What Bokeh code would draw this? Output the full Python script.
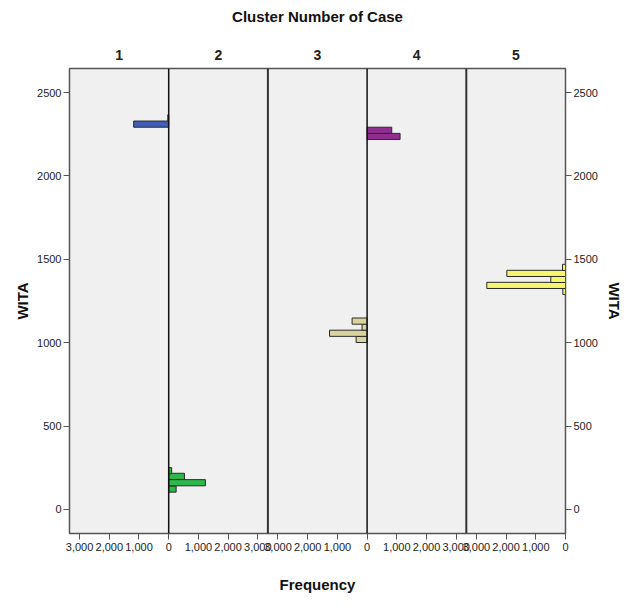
from bokeh.plotting import figure
from bokeh.models import (ColumnDataSource, Range1d, LinearAxis, FixedTicker, Span)
from bokeh.embed import file_html
from bokeh.resources import INLINE

# ---- data ----
clusters = ["1", "2", "3", "4", "5"]
bin_width = 37
c1_bins = [2292, 2330]
c1_counts = [1180, 30]
c2_bins = [104, 142, 180, 214]
c2_counts = [250, 1235, 530, 100]
c3_bins = [1001, 1038, 1075, 1111]
c3_counts = [370, 1265, 170, 505]
c4_bins = [2218, 2255]
c4_counts = [1110, 830]
c5_bins = [1289, 1325, 1361, 1397, 1433]
c5_counts = [90, 2650, 495, 1975, 100]
colors = ["#3F5CB8", "#2EB84A", "#D9D49C", "#8E2D8E", "#F7F56E"]
y_ticks = [0, 500, 1000, 1500, 2000, 2500]
freq_ticks = [0, 1000, 2000, 3000]

W = 3340  # frequency units spanned by one panel
panel_zero = [W, W, 3 * W, 3 * W, 5 * W]
panel_dir = [-1, 1, -1, 1, -1]

all_bins = [c1_bins, c2_bins, c3_bins, c4_bins, c5_bins]
all_counts = [c1_counts, c2_counts, c3_counts, c4_counts, c5_counts]

left, right, bottom, top, fill = [], [], [], [], []
for i in range(5):
    z, d = panel_zero[i], panel_dir[i]
    for b, c in zip(all_bins[i], all_counts[i]):
        a, e = z, z + d * c
        left.append(min(a, e)); right.append(max(a, e))
        bottom.append(b); top.append(b + bin_width)
        fill.append(colors[i])
src = ColumnDataSource(dict(left=left, right=right, bottom=bottom, top=top, fill=fill))

FONT = "Liberation Sans"

p = figure(frame_width=496, frame_height=465, output_backend="svg", toolbar_location=None,
           x_range=Range1d(0, 5 * W), y_range=Range1d(-144, 2644),
           x_axis_location=None, y_axis_location=None,
           min_border_left=69, min_border_right=52, min_border_top=68, min_border_bottom=59)
p.background_fill_color = "#F0F0F0"
p.border_fill_color = "white"
p.outline_line_color = "#555555"
p.outline_line_width = 1.5
p.xgrid.visible = False
p.ygrid.visible = False

p.quad(left="left", right="right", bottom="bottom", top="top", source=src,
       fill_color="fill", line_color="#2a2a2a", line_width=1)

for k in range(1, 5):
    zero = (k % 2 == 1)
    p.add_layout(Span(location=k * W, dimension="height",
                      line_color="#111111" if zero else "#333333",
                      line_width=1.5 if zero else 2))

# bottom axis: frequency
xt, xlab = [], {}
for i in range(5):
    z, d = panel_zero[i], panel_dir[i]
    for f in freq_ticks:
        if i % 2 == 1 and f == 0:
            continue
        pos = z + d * f
        xt.append(pos)
        xlab[pos] = "{:,}".format(f)
xaxis = LinearAxis(ticker=FixedTicker(ticks=xt), major_label_overrides=xlab,
                   axis_label="Frequency")
p.add_layout(xaxis, "below")

# top axis: cluster labels
ct = [(i + 0.5) * W for i in range(5)]
taxis = LinearAxis(ticker=FixedTicker(ticks=ct),
                   major_label_overrides={t: c for t, c in zip(ct, clusters)},
                   axis_label="Cluster Number of Case")
taxis.major_tick_out = 0
taxis.major_tick_in = 0
taxis.minor_tick_out = 0
taxis.axis_line_color = None
taxis.major_label_text_font_size = "14px"
taxis.major_label_text_font_style = "bold"
taxis.major_label_standoff = 9
taxis.axis_label_standoff = 22
p.add_layout(taxis, "above")

laxis = LinearAxis(ticker=FixedTicker(ticks=y_ticks), axis_label="WITA")
raxis = LinearAxis(ticker=FixedTicker(ticks=y_ticks), axis_label="WITA")
p.add_layout(laxis, "left")
p.add_layout(raxis, "right")

for ax in (xaxis, laxis, raxis, taxis):
    ax.major_label_text_font = FONT
    ax.axis_label_text_font = FONT
    ax.axis_label_text_font_style = "bold"
    ax.axis_label_text_font_size = "15px"
    ax.axis_label_text_color = "#111111"
    ax.major_label_text_color = "#222222"
    ax.minor_tick_line_color = None
for ax in (xaxis, laxis, raxis):
    ax.major_label_text_font_size = "11px"
    ax.major_tick_out = 6
    ax.major_tick_in = 0
    ax.axis_line_color = "#555555"
    ax.major_tick_line_color = "#555555"
    ax.major_label_standoff = 2
xaxis.major_label_standoff = 3
xaxis.axis_label_standoff = 22
laxis.axis_label_standoff = 3
raxis.axis_label_standoff = 5
laxis.major_label_orientation = "horizontal"
raxis.major_label_orientation = "horizontal"

open("out.html", "w").write(file_html(p, INLINE))
